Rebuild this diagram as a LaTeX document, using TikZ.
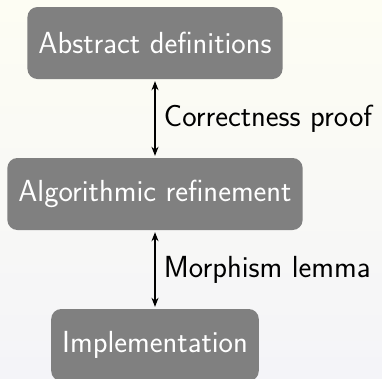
\documentclass[tikz,border=0pt]{standalone}
\usepackage{xcolor}
\usepackage{tikz}
\usetikzlibrary{arrows.meta, positioning}

\definecolor{bgtop}{HTML}{FDFDF3}
\definecolor{bgbot}{HTML}{F4F4F8}

\begin{document}
\begin{tikzpicture}[x=1pt, y=-1pt, font=\sffamily\fontsize{30.5}{36}\selectfont,
        stage/.style={rectangle, rounded corners=10pt, fill=black!50, text=white, minimum height=72pt, inner xsep=11pt},
        link/.style={{Stealth[length=9pt,width=7pt]}-{Stealth[length=9pt,width=7pt]}, line width=1.2pt, shorten <=2pt, shorten >=2pt}]
        % background
        \shade[top color=bgtop, bottom color=bgbot] (0,0) rectangle (382,378);
        \useasboundingbox (0,0) rectangle (382,378);

        \node[stage] (abs) at (155, 43) {Abstract definitions};
        \node[stage] (alg) at (155, 194) {Algorithmic refinement};
        \node[stage] (impl) at (155, 345) {Implementation};

        \draw[link] (abs) -- node[right=5pt] {Correctness proof} (alg);
        \draw[link] (alg) -- node[right=5pt] {Morphism lemma} (impl);
    \end{tikzpicture}
\end{document}
